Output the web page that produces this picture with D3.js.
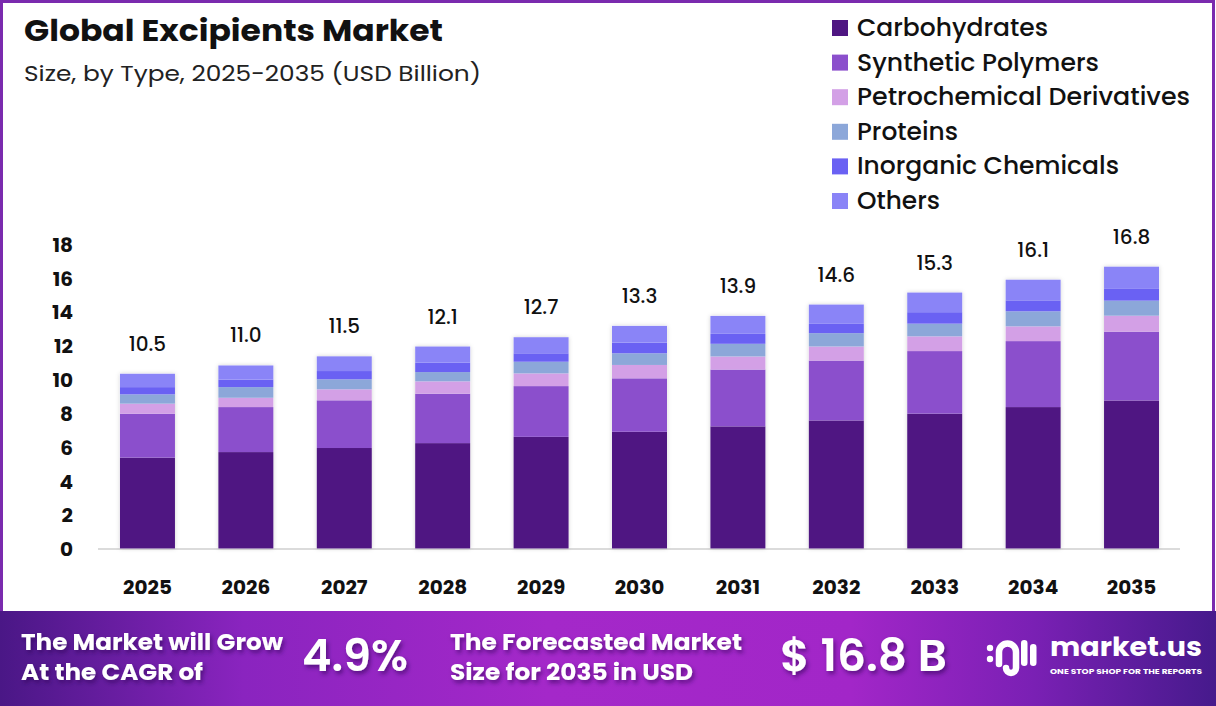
<!DOCTYPE html>
<html>
<head>
<meta charset="utf-8">
<script src="https://cdn.jsdelivr.net/npm/d3@7"></script>
<style>
  html, body { margin: 0; padding: 0; background: #fff; }
  svg { display: block; }
  text { font-family: Poppins, Inter, "Open Sans", sans-serif; }
</style>
</head>
<body>
<svg id="chart" width="1216" height="706"></svg>
<script>
// ---------- DATA ----------
const years = ["2025","2026","2027","2028","2029","2030","2031","2032","2033","2034","2035"];
const seriesNames = ["Carbohydrates","Synthetic Polymers","Petrochemical Derivatives","Proteins","Inorganic Chemicals","Others"];
const carbohydrates = [5.37,5.70,5.94,6.23,6.60,6.90,7.22,7.57,7.97,8.36,8.75];
const syntheticPolymers = [2.60,2.66,2.82,2.92,3.00,3.16,3.36,3.54,3.70,3.90,4.07];
const petrochemicalDerivatives = [0.59,0.55,0.65,0.73,0.75,0.79,0.77,0.83,0.87,0.87,0.94];
const proteins = [0.55,0.63,0.59,0.55,0.69,0.69,0.75,0.79,0.75,0.89,0.89];
const inorganicChemicals = [0.43,0.45,0.49,0.55,0.50,0.63,0.59,0.55,0.68,0.65,0.73];
const others = [0.79,0.83,0.87,0.96,0.95,0.99,1.06,1.14,1.16,1.22,1.28];
const totalLabels = ["10.5","11.0","11.5","12.1","12.7","13.3","13.9","14.6","15.3","16.1","16.8"];
const yTicks = [0,2,4,6,8,10,12,14,16,18];
const colors = ["#4f1682","#8b4fcc","#d3a0e6","#8ca7d9","#6a61f3","#8a84f7"];
const cagrText = "4.9%";
const forecastText = "$ 16.8 B";

// ---------- BUILD ----------
const seriesValues = [carbohydrates, syntheticPolymers, petrochemicalDerivatives, proteins, inorganicChemicals, others];
const table = years.map((y, i) => {
  const row = { year: y, label: totalLabels[i] };
  seriesNames.forEach((s, k) => row[s] = seriesValues[k][i]);
  return row;
});
const stacked = d3.stack().keys(seriesNames)(table);

const svg = d3.select("#chart");
const defs = svg.append("defs");

// footer gradient
const grad = defs.append("linearGradient").attr("id", "footGrad").attr("x1", "0%").attr("x2", "100%");
[[0, "#4a1786"], [0.2, "#8a24bf"], [0.45, "#a428c9"], [0.7, "#a226c8"], [0.85, "#7a20b4"], [1, "#461a8c"]]
  .forEach(([o, c]) => grad.append("stop").attr("offset", o).attr("stop-color", c));

const shadow = defs.append("filter").attr("id", "txtShadow").attr("x", "-20%").attr("y", "-20%").attr("width", "140%").attr("height", "160%");
shadow.append("feDropShadow").attr("dx", 2).attr("dy", 3).attr("stdDeviation", 2)
  .attr("flood-color", "#2a0050").attr("flood-opacity", 0.55);

const barShadow = defs.append("filter").attr("id", "barShadow").attr("x", "-20%").attr("y", "-10%").attr("width", "140%").attr("height", "120%");
barShadow.append("feDropShadow").attr("dx", 0).attr("dy", 0).attr("stdDeviation", 2)
  .attr("flood-color", "#000").attr("flood-opacity", 0.18);

// card border
svg.append("rect").attr("x", 0).attr("y", 0).attr("width", 1216).attr("height", 706).attr("fill", "#fff");
svg.append("rect").attr("x", 1.5).attr("y", 1.5).attr("width", 1212).attr("height", 612)
  .attr("fill", "#fff").attr("stroke", "#7a2aae").attr("stroke-width", 3);

// footer
svg.append("rect").attr("x", 0).attr("y", 611).attr("width", 1216).attr("height", 95).attr("fill", "url(#footGrad)");

// title
svg.append("text").attr("x", 24).attr("y", 41).attr("font-size", 29).attr("font-weight", 700)
  .attr("fill", "#111").attr("textLength", 419).attr("lengthAdjust", "spacingAndGlyphs")
  .text("Global Excipients Market");
svg.append("text").attr("x", 24).attr("y", 81).attr("font-size", 22).attr("font-weight", 400)
  .attr("fill", "#222").attr("textLength", 457).attr("lengthAdjust", "spacingAndGlyphs")
  .text("Size, by Type, 2025-2035 (USD Billion)");

// legend
const legendWidths = [191, 242, 333, 101, 262, 83];
const lg = svg.append("g");
seriesNames.forEach((s, i) => {
  const by = 36 + i * 34.6;
  lg.append("rect").attr("x", 832).attr("y", by - 16).attr("width", 16).attr("height", 16).attr("fill", colors[i]);
  lg.append("text").attr("x", 857).attr("y", by).attr("font-size", 24.5).attr("font-weight", 500)
    .attr("fill", "#111").attr("textLength", legendWidths[i]).attr("lengthAdjust", "spacingAndGlyphs").text(s);
});

// scales
const x = d3.scaleBand().domain(years).range([98.3, 1180.7]).paddingInner(0.441).paddingOuter(0.22);
const y = d3.scaleLinear().domain([0, 18]).range([548.5, 244]);

// axis baseline
svg.append("line").attr("x1", 98).attr("x2", 1180).attr("y1", 549).attr("y2", 549)
  .attr("stroke", "#cfcfcf").attr("stroke-width", 1.5);

// y ticks
const yAxis = d3.axisLeft(y).tickValues(yTicks).tickSize(0).tickPadding(0);
const yg = svg.append("g").attr("transform", "translate(73,0)").call(yAxis);
yg.select(".domain").remove();
yg.selectAll("text").attr("font-size", 20).attr("font-weight", 700).attr("fill", "#111")
  .attr("font-family", "Poppins, Inter, sans-serif").attr("dy", "0.36em");

// x labels
const xAxis = d3.axisBottom(x).tickSize(0).tickPadding(0);
const xg = svg.append("g").attr("transform", "translate(0,578)").call(xAxis);
xg.select(".domain").remove();
xg.selectAll("text").attr("font-size", 20).attr("font-weight", 700).attr("fill", "#111")
  .attr("font-family", "Poppins, Inter, sans-serif").attr("dy", "0.78em");

// bars
const barsG = svg.append("g");
barsG.selectAll("rect.shadow").data(table).join("rect").attr("class", "shadow")
  .attr("x", d => x(d.year)).attr("width", x.bandwidth())
  .attr("y", (d, i) => y(stacked[stacked.length - 1][i][1]))
  .attr("height", (d, i) => y(0) - y(stacked[stacked.length - 1][i][1]))
  .attr("fill", "#fff").attr("filter", "url(#barShadow)");
stacked.forEach((layer, k) => {
  barsG.append("g").attr("fill", colors[k]).selectAll("rect").data(layer).join("rect")
    .attr("x", d => x(d.data.year)).attr("width", x.bandwidth())
    .attr("y", d => y(d[1])).attr("height", d => y(d[0]) - y(d[1]));
});

// totals
svg.append("g").selectAll("text").data(stacked[stacked.length - 1]).join("text")
  .attr("x", d => x(d.data.year) + x.bandwidth() / 2).attr("y", d => y(d[1]) - 23)
  .attr("text-anchor", "middle").attr("font-size", 20).attr("font-weight", 500).attr("fill", "#111")
  .text(d => d.data.label);

// footer texts
const ft = svg.append("g").attr("fill", "#fff").attr("filter", "url(#txtShadow)");
ft.append("text").attr("x", 21).attr("y", 650).attr("font-size", 23).attr("font-weight", 700)
  .attr("textLength", 262).attr("lengthAdjust", "spacingAndGlyphs").text("The Market will Grow");
ft.append("text").attr("x", 21).attr("y", 680).attr("font-size", 23).attr("font-weight", 700)
  .attr("textLength", 182).attr("lengthAdjust", "spacingAndGlyphs").text("At the CAGR of");
ft.append("text").attr("x", 302).attr("y", 671).attr("font-size", 45).attr("font-weight", 600)
  .attr("textLength", 106).attr("lengthAdjust", "spacingAndGlyphs").text(cagrText);
ft.append("text").attr("x", 450).attr("y", 650).attr("font-size", 23).attr("font-weight", 700)
  .attr("textLength", 292).attr("lengthAdjust", "spacingAndGlyphs").text("The Forecasted Market");
ft.append("text").attr("x", 450).attr("y", 680).attr("font-size", 23).attr("font-weight", 700)
  .attr("textLength", 243).attr("lengthAdjust", "spacingAndGlyphs").text("Size for 2035 in USD");
ft.append("text").attr("x", 780).attr("y", 671).attr("font-size", 44).attr("font-weight", 600)
  .attr("textLength", 167).attr("lengthAdjust", "spacingAndGlyphs").text(forecastText);

// logo
const logo = svg.append("g").attr("fill", "#fff");
logo.append("circle").attr("cx", 990).attr("cy", 648).attr("r", 3.2);
logo.append("circle").attr("cx", 990).attr("cy", 659).attr("r", 3.2);
logo.append("path").attr("d", "M999,664 L999,652 A8.5,8.5 0 0 1 1016,652 L1016,668 A5,5 0 0 1 1006,668")
  .attr("fill", "none").attr("stroke", "#fff").attr("stroke-width", 6.5).attr("stroke-linecap", "round");
logo.append("rect").attr("x", 1021).attr("y", 640).attr("width", 6.5).attr("height", 26).attr("rx", 3.2);
logo.append("rect").attr("x", 1030).attr("y", 644).attr("width", 6.5).attr("height", 22).attr("rx", 3.2);
logo.append("text").attr("x", 1050).attr("y", 656).attr("font-size", 27).attr("font-weight", 700)
  .attr("textLength", 152).attr("lengthAdjust", "spacingAndGlyphs").text("market.us");
logo.append("text").attr("x", 1050).attr("y", 674).attr("font-size", 7).attr("font-weight", 700)
  .attr("textLength", 152).attr("lengthAdjust", "spacingAndGlyphs").text("ONE STOP SHOP FOR THE REPORTS");
</script>
</body>
</html>
